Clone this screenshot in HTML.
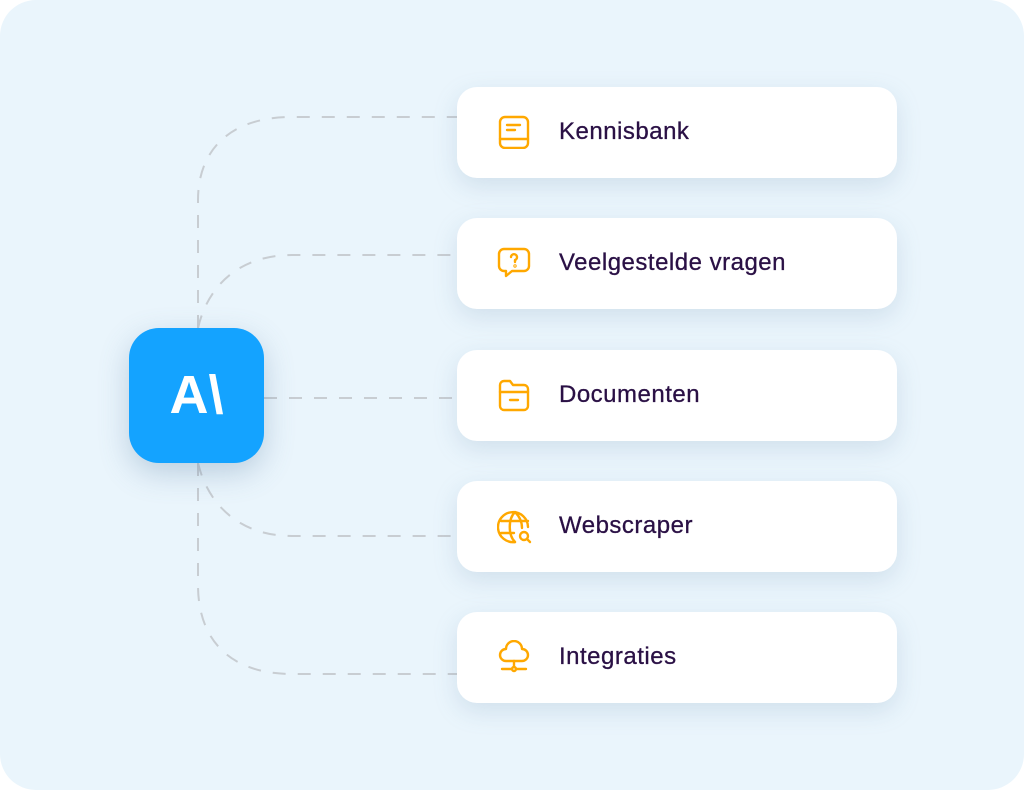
<!DOCTYPE html>
<html><head><meta charset="utf-8"><style>
html,body{margin:0;padding:0;background:#fff;width:1024px;height:790px;overflow:hidden}
.bg{position:absolute;left:0;top:0;width:1024px;height:790px;border-radius:36px;background:#eaf5fc}
.card{position:absolute;left:457px;width:440px;height:91px;background:#fff;border-radius:20px;box-shadow:0 8px 24px rgba(120,150,180,0.22)}
.card span{position:absolute;left:102px;top:-1px;line-height:91px;font-family:"Liberation Sans",sans-serif;font-size:24px;color:#2a1045;letter-spacing:0.5px;-webkit-text-stroke:0.3px #2a1045}
.card svg{position:absolute;left:40px;top:28px}
.ai{position:absolute;left:129px;top:328px;width:135px;height:135px;border-radius:30px;background:#14a3ff;box-shadow:0 10px 30px rgba(80,120,160,0.3);color:#fff;font-family:"Liberation Sans",sans-serif;font-weight:bold;font-size:54px;text-align:center;line-height:135px}
</style></head><body>
<div class="bg"></div>
<svg width="1024" height="790" style="position:absolute;left:0;top:0">
<g fill="none" stroke="#c8cdd2" stroke-width="2" stroke-dasharray="13,12">
<path d="M198 328 L198 200 C198 150 230 117 292 117 L457 117"/>
<path d="M198 328 C208 285 240 255 292 255 L457 255"/>
<path d="M264 398 L457 398"/>
<path d="M198 463 C208 505 240 536 292 536 L457 536"/>
<path d="M198 463 L198 585 C198 640 230 674 292 674 L457 674"/>
</g></svg>
<div class="ai">A\</div>
<div class="card" style="top:87px"><svg width="34" height="34" viewBox="0 0 34 34" fill="none" stroke="#ffa800" stroke-width="2.4" stroke-linecap="round"><rect x="3" y="2" width="28" height="31" rx="5"/><path d="M3 24 H31"/><path d="M10 10 H23 M10 15 H18"/></svg><span>Kennisbank</span></div>
<div class="card" style="top:218px"><svg width="34" height="34" viewBox="0 0 34 34" fill="none" stroke="#ffa800" stroke-width="2.4" stroke-linecap="round" stroke-linejoin="round"><path d="M7 3 H27 a5 5 0 0 1 5 5 V20 a5 5 0 0 1 -5 5 H15 L9 30 V25 H7 a5 5 0 0 1 -5 -5 V8 a5 5 0 0 1 5 -5z"/><path d="M14 11 a3 3 0 1 1 4 3 v2"/><circle cx="18" cy="20" r="0.5"/></svg><span>Veelgestelde vragen</span></div>
<div class="card" style="top:350px"><svg width="34" height="34" viewBox="0 0 34 34" fill="none" stroke="#ffa800" stroke-width="2.4" stroke-linecap="round" stroke-linejoin="round"><path d="M3 28 V7 a4 4 0 0 1 4 -4 H13 L16 7 H27 a4 4 0 0 1 4 4 V28 a4 4 0 0 1 -4 4 H7 a4 4 0 0 1 -4 -4z"/><path d="M3 14 H31"/><path d="M13 22 H21"/></svg><span>Documenten</span></div>
<div class="card" style="top:481px"><svg width="36" height="36" viewBox="0 0 36 36" fill="none" stroke="#ffa800" stroke-width="2.4" stroke-linecap="round"><path d="M31 18 A15 15 0 1 0 18 33"/><path d="M18 3 C11 10 11 26 18 33 M18 3 C24 9 25 15 25 19"/><path d="M4 12 H31 M4 24 H17"/><circle cx="27" cy="27" r="4"/><path d="M30 30 L33 33"/></svg><span>Webscraper</span></div>
<div class="card" style="top:612px"><svg width="34" height="34" viewBox="0 0 34 34" fill="none" stroke="#ffa800" stroke-width="2.4" stroke-linecap="round" stroke-linejoin="round"><path d="M9 21 a6 6 0 0 1 0 -12 a8 8 0 0 1 16 0 a6 6 0 0 1 0 12z"/><path d="M17 21 V27"/><circle cx="17" cy="29" r="2"/><path d="M5 29 H15 M19 29 H29"/></svg><span>Integraties</span></div>
</body></html>
